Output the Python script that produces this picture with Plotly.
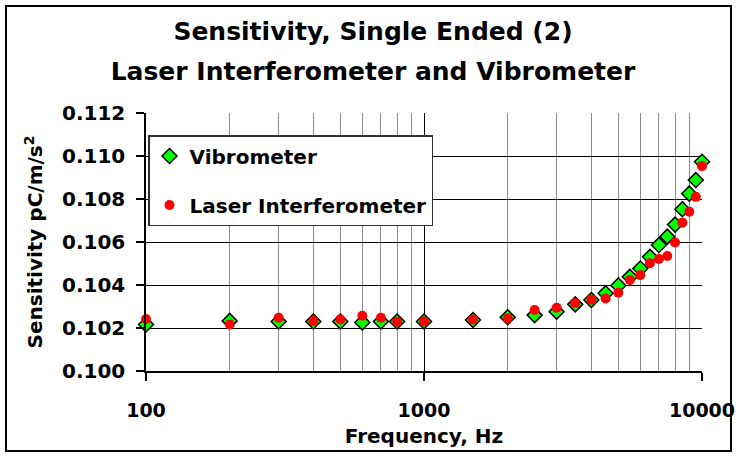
import plotly.graph_objects as go

# ---- data ----
freq_hz = [100, 200, 300, 400, 500, 600, 700, 800, 1000, 1500, 2000, 2500, 3000,
           3500, 4000, 4500, 5000, 5500, 6000, 6500, 7000, 7500, 8000, 8500,
           9000, 9500, 10000]
vibrometer = [0.10216, 0.10233, 0.10230, 0.10230, 0.10230, 0.10226, 0.10230,
              0.10230, 0.10230, 0.10237, 0.10250, 0.10260, 0.10276, 0.10310,
              0.10330, 0.10362, 0.10398, 0.10438, 0.10477, 0.10531, 0.10586,
              0.10625, 0.10681, 0.10752, 0.10825, 0.10888, 0.10973]
laser = [0.10242, 0.10217, 0.10248, 0.10232, 0.10240, 0.10257, 0.10248,
         0.10229, 0.10230, 0.10240, 0.10245, 0.10284, 0.10294, 0.10316,
         0.10332, 0.10337, 0.10364, 0.10423, 0.10446, 0.10501, 0.10521,
         0.10535, 0.10598, 0.10690, 0.10741, 0.10810, 0.10953]
x_tick_vals = [100, 1000, 10000]
x_tick_text = ["100", "1000", "10000"]
x_minor_vals = [200, 300, 400, 500, 600, 700, 800, 900,
                2000, 3000, 4000, 5000, 6000, 7000, 8000, 9000]
y_range = [0.100, 0.112]
y_step = 0.002

FONT = "DejaVu Sans"
W, H = 736, 456
ML, MR, MT, MB = 146, 34, 113, 85
PW, PH = W - ML - MR, H - MT - MB

fig = go.Figure()
fig.add_trace(go.Scatter(
    x=freq_hz, y=vibrometer, mode="markers", name="Vibrometer",
    legendgroup="vib", cliponaxis=False,
    marker=dict(symbol="diamond", size=11.5, color="#00FF00",
                line=dict(color="black", width=1.5))))
fig.add_trace(go.Scatter(
    x=freq_hz, y=laser, mode="markers", name="Laser Interferometer",
    legendgroup="laser", cliponaxis=False,
    marker=dict(symbol="circle", size=10, color="#FF0000")))


def px_x(px):
    return (px - ML) / PW


def px_y(py):
    return (H - MB - py) / PH


fig.update_layout(
    width=W, height=H,
    margin=dict(l=ML, r=MR, t=MT, b=MB, autoexpand=False),
    paper_bgcolor="white", plot_bgcolor="white",
    font=dict(family=FONT, color="black", size=20, weight="bold"),
    title=dict(
        text=("<span style='font-size:25px'>Sensitivity, Single Ended (2)</span><br>"
              "<span style='font-size:25px'>Laser Interferometer and Vibrometer</span>"),
        x=373 / W, xanchor="center", xref="container",
        y=1 - 40 / H, yanchor="top", yref="container",
        font=dict(family=FONT, size=31, color="black", weight="bold")),
    showlegend=True,
    legend=dict(x=px_x(148), y=px_y(135), xanchor="left", yanchor="top",
                bgcolor="white", bordercolor="#303030", borderwidth=1.5,
                font=dict(family=FONT, size=20, color="black", weight="bold"),
                tracegroupgap=20, entrywidth=250, entrywidthmode="pixels"),
    xaxis=dict(
        type="log", range=[2, 4],
        tickmode="array", tickvals=x_tick_vals, ticktext=x_tick_text,
        tickfont=dict(family=FONT, size=19, weight="bold"),
        ticklabeloverflow="allow",
        showgrid=True, gridcolor="black", gridwidth=1,
        showline=True, linecolor="black", linewidth=1.5,
        ticks="outside", ticklen=8, tickcolor="black", tickwidth=1.5,
        ticklabelstandoff=13,
        zeroline=False,
        minor=dict(tickmode="array", tickvals=x_minor_vals, showgrid=True,
                   gridcolor="#8c8c8c", gridwidth=1, ticks=""),
        title=dict(text="Frequency, Hz", standoff=9,
                   font=dict(family=FONT, size=20, weight="bold"))),
    yaxis=dict(
        range=y_range, tick0=y_range[0], dtick=y_step, tickformat=".3f",
        showgrid=True, gridcolor="black", gridwidth=1,
        showline=True, linecolor="black", linewidth=1.5,
        ticks="outside", ticklen=8, tickcolor="black", tickwidth=1.5,
        ticklabelstandoff=7,
        zeroline=False,
        title=dict(text="Sensitivity pC/m/s<sup>2</sup>", standoff=14,
                   font=dict(family=FONT, size=20, weight="bold"))),
    shapes=[dict(type="rect", xref="paper", yref="paper",
                 x0=px_x(6), x1=px_x(731), y0=px_y(451), y1=px_y(6),
                 line=dict(color="black", width=2), fillcolor="rgba(0,0,0,0)",
                 layer="above")],
)

fig.write_html("out.html",
               config={"displayModeBar": False},
               post_script="document.body.style.margin='0';document.body.style.padding='0';")
